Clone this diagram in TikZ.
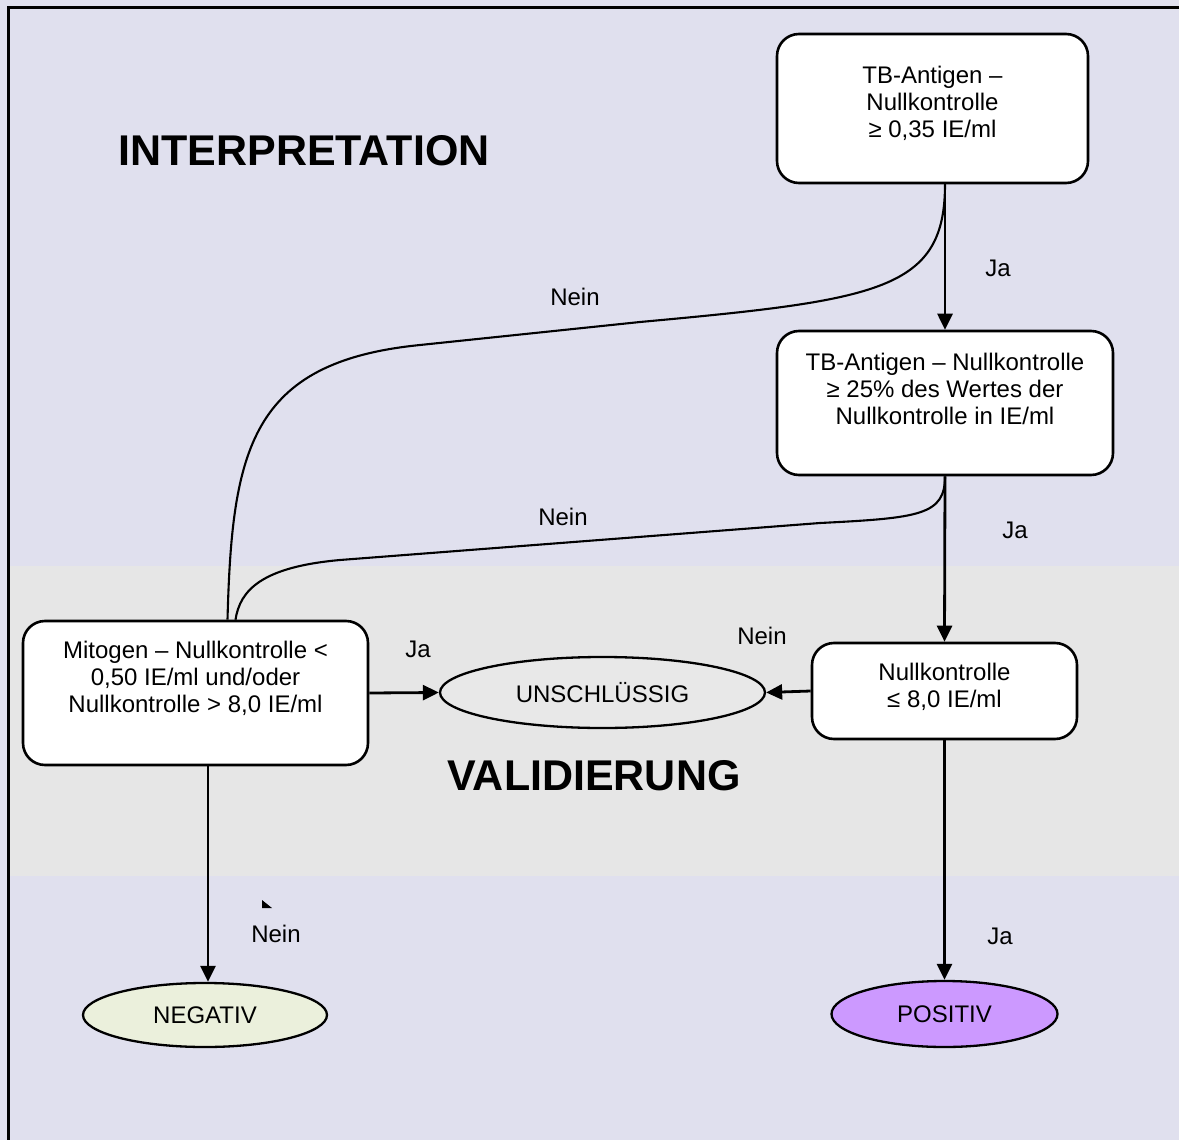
\documentclass[tikz,border=0pt]{standalone}
\usepackage{fontspec}
\setmainfont{Liberation Sans}
\usetikzlibrary{shapes.geometric,arrows.meta}

\definecolor{lavbg}{HTML}{E0E0EE}
\definecolor{bandgrau}{HTML}{E6E6E6}
\definecolor{unschgrau}{HTML}{E8E8E8}
\definecolor{neggruen}{HTML}{EBF0DC}
\definecolor{poslila}{HTML}{CC99FF}

\tikzset{
  pruef/.style={draw,line width=2.6pt,fill=white,rounded corners=22pt,inner sep=0pt,align=center},
  ergebnis/.style={draw,ellipse,line width=2.3pt,inner sep=0pt},
  pfeil/.style={line width=2.8pt,-{Triangle[length=16pt,width=15pt]}},
  nein/.style={line width=2.1pt}
}

\begin{document}
\begin{tikzpicture}[x=1pt,y=-1pt,font=\fontsize{24}{27}\selectfont]
\useasboundingbox (0,0) rectangle (1179,1140);

% background and band
\fill[lavbg] (0,0) rectangle (1179,1140);
\fill[bandgrau] (9,566) rectangle (1179,876);
\draw[line width=3pt] (8,1140) -- (8,8) -- (1179,8);

\node[font=\fontsize{43}{50}\selectfont\bfseries] (interp) at (304,151) {INTERPRETATION};
\node[font=\fontsize{43}{50}\selectfont\bfseries] (valid) at (594,776) {VALIDIERUNG};

% boxes
\node[pruef,minimum width=311pt,minimum height=149pt,text depth=13pt] (tb1) at (932.5,108.5) {TB-Antigen –\\Nullkontrolle\\≥ 0,35 IE/ml};
\node[pruef,minimum width=336pt,minimum height=144pt,text depth=28pt] (tb2) at (945,403) {TB-Antigen – Nullkontrolle\\≥ 25\% des Wertes der\\Nullkontrolle in IE/ml};
\node[pruef,minimum width=265pt,minimum height=96pt,text depth=12pt] (nk) at (944.5,691) {Nullkontrolle\\≤ 8,0 IE/ml};
\node[pruef,minimum width=345pt,minimum height=144pt,text depth=33pt] (mito) at (195.5,693) {Mitogen – Nullkontrolle <\\0,50 IE/ml und/oder\\Nullkontrolle > 8,0 IE/ml};

% results
\node[ergebnis,fill=unschgrau,minimum width=325pt,minimum height=71pt] (unsch) at (602.5,692.5) {UNSCHLÜSSIG};
\node[ergebnis,fill=neggruen,minimum width=244pt,minimum height=64pt] (neg) at (205,1015) {NEGATIV};
\node[ergebnis,fill=poslila,minimum width=226pt,minimum height=66pt] (pos) at (944.5,1014) {POSITIV};

% arrows
\draw[pfeil] (tb2.north |- tb1.south) -- (tb2.north);
\draw[pfeil] (tb2.south) -- (nk.north);
\draw[pfeil] (nk.west) -- (unsch.east);
\draw[pfeil] (mito.east) -- (unsch.west);
\draw[pfeil] ([xshift=3pt]neg.north |- mito.south) -- ([xshift=3pt]neg.north);
\draw[pfeil] (nk.south) -- (pos.north);

% Nein curves
\draw[nein] (tb2.north |- tb1.south) .. controls (945,290) and (880,300) .. (640,322)
  -- (420,345) .. controls (250,362) and (232,450) .. ([xshift=32pt]mito.north);
\draw[nein] (tb2.south) .. controls (945,515) and (920,518) .. (820,523)
  -- (340,560) .. controls (262,567) and (240,590) .. ([xshift=40pt]mito.north);

% labels
\node (ja1) at (998,268) {Ja};
\node (ja2) at (1015,530) {Ja};
\node (ja3) at (418,649) {Ja};
\node (ja4) at (1000,936) {Ja};
\node (nein1) at (575,297) {Nein};
\node (nein2) at (563,517) {Nein};
\node (nein3) at (762,636) {Nein};
\node (nein4) at (276,934) {Nein};

\fill (262,900) -- (262,908) -- (272,908) -- cycle;
\end{tikzpicture}
\end{document}
